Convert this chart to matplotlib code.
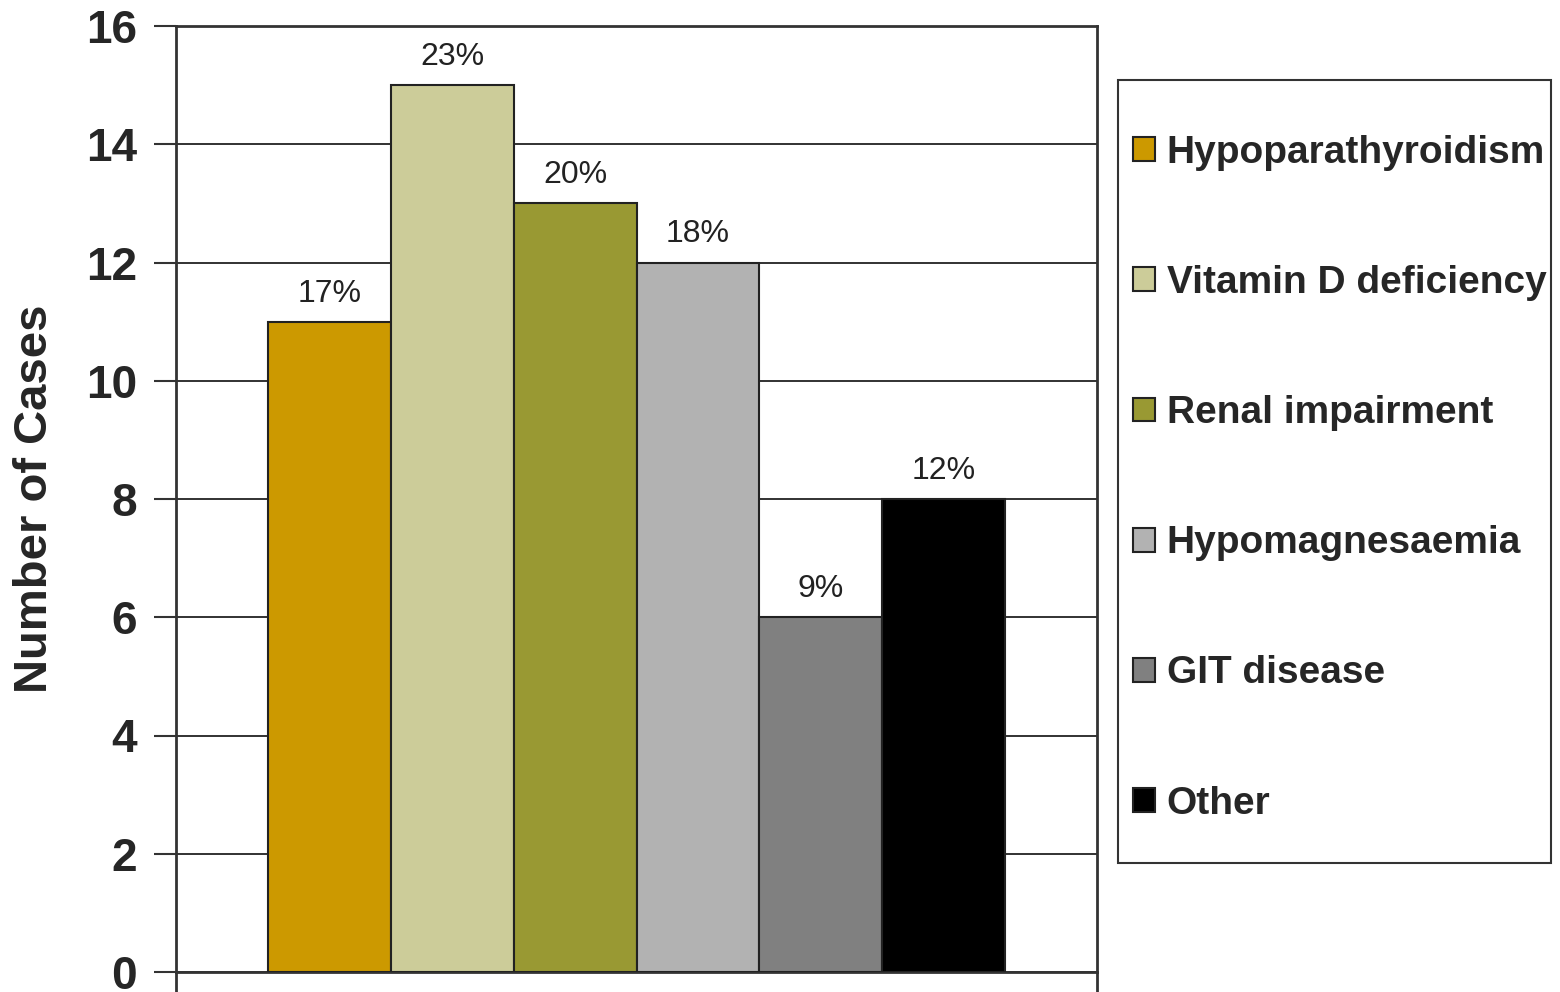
import numpy as np
import matplotlib.pyplot as plt
from matplotlib.ticker import MultipleLocator
from matplotlib.patches import Rectangle

plt.rcParams['font.family'] = ['Liberation Sans', 'DejaVu Sans']

# Causes of hypocalcaemia
causes = ["Hypoparathyroidism", "Vitamin D deficiency", "Renal impairment",
          "Hypomagnesaemia", "GIT disease", "Other"]
cases = [11, 15, 13, 12, 6, 8]
percent_labels = ["17%", "23%", "20%", "18%", "9%", "12%"]
colors = ["#CC9900", "#CCCC99", "#999933", "#B2B2B2", "#808080", "#000000"]

W, H = 1560, 992
fig = plt.figure(figsize=(W/100, H/100), dpi=100)
ax = fig.add_axes([176/W, 1 - 972/H, (1097 - 176)/W, (972 - 26)/H])

x = np.arange(len(causes))
for i in range(len(causes)):
    ax.bar(x[i], cases[i], width=1.0, color=colors[i], edgecolor="#222222",
           linewidth=1.5, label=causes[i], zorder=3)
    ax.text(x[i], cases[i] + 0.22, percent_labels[i], ha="center", va="bottom",
            fontsize=23, color="#222222")

ax.set_xlim(-1.25, 6.25)
ax.set_ylim(0, 16)
ax.yaxis.set_major_locator(MultipleLocator(2))
ax.set_xticks([-1.25, 6.25])
ax.set_xticklabels([])
ax.tick_params(axis="x", direction="out", length=16, width=2, color="#333333")
ax.tick_params(axis="y", direction="out", length=16, width=1.5, color="#333333",
               labelsize=33, labelcolor="#262626", pad=12)
for t in ax.get_yticklabels():
    t.set_fontweight("bold")
ax.grid(axis="y", color="#222222", linewidth=1.3, zorder=0)
for s in ax.spines.values():
    s.set_linewidth(2)
    s.set_color("#333333")

ax.set_ylabel("Number of Cases", fontsize=34, fontweight="bold", color="#262626")
ax.yaxis.set_label_coords((57 - 176)/921, 0.5)

# legend box drawn separately so the padding can match
fig.patches.append(Rectangle((1118/W, 1 - 863/H), (1551 - 1118)/W, (863 - 80)/H,
                             transform=fig.transFigure, fill=False,
                             edgecolor="#333333", linewidth=1.5))
leg = fig.legend(loc="upper left", bbox_to_anchor=(1133/W, 1 - 135/H),
                 borderaxespad=0, borderpad=0, frameon=False,
                 handlelength=0.57, handleheight=0.57,
                 handletextpad=0.3, labelspacing=2.42,
                 prop={"weight": "bold", "size": 28})
for t in leg.get_texts():
    t.set_color("#262626")

fig.savefig("out.png", dpi=100)
